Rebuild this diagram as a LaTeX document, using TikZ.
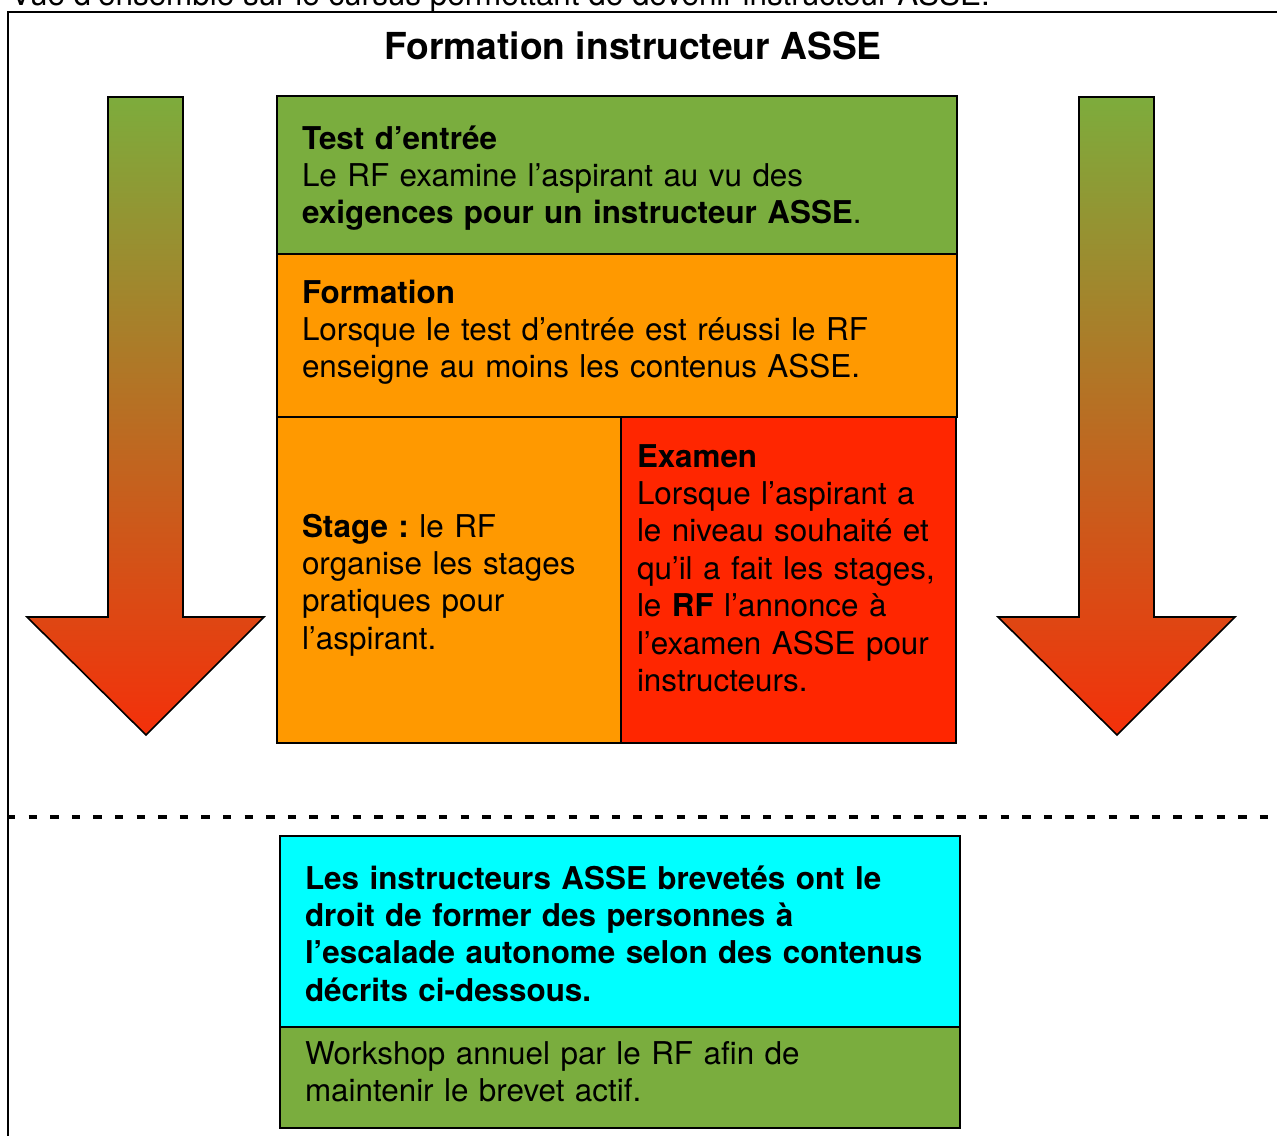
\documentclass[tikz,border=0pt]{standalone}
\usepackage{fontspec}
\setmainfont{TeX Gyre Heros}
\frenchspacing
\definecolor{boxgreen}{RGB}{122,173,62}
\definecolor{boxorange}{RGB}{255,153,0}
\definecolor{boxred}{RGB}{255,38,0}
\definecolor{boxcyan}{RGB}{0,255,255}
\definecolor{arrowtop}{RGB}{125,172,60}
\definecolor{arrowbottom}{RGB}{244,48,10}
\tikzset{
  box/.style={draw, line width=1pt, rectangle, anchor=north west, align=left,
    inner xsep=12.5pt, inner ysep=0pt, outer sep=0pt},
  bigarrow/.style={draw, line width=0.8pt, top color=arrowtop, bottom color=arrowbottom},
}
\begin{document}
\begin{tikzpicture}[x=0.5pt, y=-0.5pt, line join=miter, font=\fontsize{15.7}{18.7}\selectfont]
\useasboundingbox (0,0) rectangle (1277,1135);
% frame and separation
\draw[line width=1pt] (8,1140) -- (8,12) -- (1290,12);
\draw[line width=1.7pt, dash pattern=on 4.2pt off 6.6pt] (7,817) -- (1290,817);
\node[anchor=base west, inner sep=0pt] (intro) at (10,5)
  {Vue d’ensemble sur le cursus permettant de devenir instructeur ASSE.};
\node[font=\fontsize{18.6}{21}\selectfont\bfseries] (title) at (633,46) {Formation instructeur ASSE};
% arrows left and right
\foreach \dx in {0,971}
  \draw[bigarrow] (108+\dx,97) -- (183+\dx,97) -- (183+\dx,617) -- (264+\dx,617)
    -- (146+\dx,735) -- (27+\dx,617) -- (108+\dx,617) -- cycle;
% cursus
\node[box, fill=boxgreen, text width=315pt, text height=26.5pt, text depth=52.5pt] (test) at (277,96)
  {\textbf{Test d’entrée}\\Le RF examine l’aspirant au vu des\\\textbf{exigences pour un instructeur ASSE}.};
\node[box, fill=boxorange, text width=315pt, text height=24.5pt, text depth=57pt] (formation) at (test.south west)
  {\textbf{Formation}\\Lorsque le test d’entrée est réussi le RF\\enseigne au moins les contenus ASSE.};
\node[box, fill=boxorange, text width=147pt, text height=60pt, text depth=103pt] (stage) at (formation.south west)
  {\textbf{Stage :} le RF\\organise les stages\\pratiques pour\\l’aspirant.};
\node[box, fill=boxred, inner xsep=8pt, text width=151.5pt, text height=25pt, text depth=138pt] (examen) at (stage.north east)
  {\textbf{Examen}\\Lorsque l’aspirant a\\le niveau souhaité et\\qu’il a fait les stages,\\le \textbf{RF} l’annonce à\\l’examen ASSE pour\\instructeurs.};
% after the brevet
\node[box, fill=boxcyan, text width=315pt, text height=26.5pt, text depth=69pt] (brevet) at (280,836)
  {\textbf{Les instructeurs ASSE brevetés ont le}\\\textbf{droit de former des personnes à}\\\textbf{l’escalade autonome selon des contenus}\\\textbf{décrits ci-dessous.}};
\node[box, fill=boxgreen, text width=315pt, text height=18.5pt, text depth=32pt] (workshop) at (brevet.south west)
  {Workshop annuel par le RF afin de\\maintenir le brevet actif.};
\end{tikzpicture}
\end{document}
